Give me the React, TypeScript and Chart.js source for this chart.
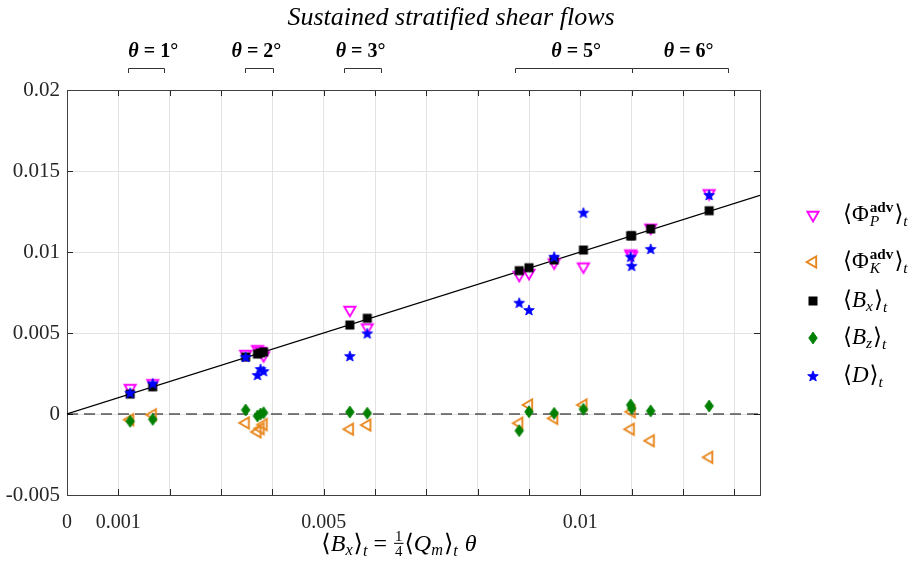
import { useEffect, useRef } from 'react';
import { Chart, registerables } from 'chart.js';
Chart.register(...registerables);

// ---------- data ----------
const xValues = [0.00123, 0.00167, 0.00348, 0.00371, 0.00377, 0.00383, 0.00551, 0.00585, 0.00881, 0.009, 0.00949, 0.01006, 0.01098, 0.011, 0.01137, 0.01251];
const phiP = [0.0016, 0.0019, 0.0037, 0.004, 0.0039, 0.00362, 0.00642, 0.00534, 0.00858, 0.0087, 0.00935, 0.0091, 0.0099, 0.0098, 0.0115, 0.01362];
const phiK = [-0.00035, -0.00005, -0.00055, -0.0011, -0.0009, -0.00065, -0.00094, -0.00068, -0.00057, 0.00056, -0.00027, 0.00056, -0.00094, 0.00014, -0.00165, -0.00267];
const bX = [0.00123, 0.00168, 0.00352, 0.0037, 0.00377, 0.00383, 0.00549, 0.00591, 0.00885, 0.00903, 0.00951, 0.01012, 0.011, 0.011, 0.01142, 0.01255];
const bZ = [-0.00045, -0.00033, 0.00025, -0.00012, 0.0, 0.00008, 0.00012, 0.00005, -0.00103, 0.00014, 0.00004, 0.00029, 0.00056, 0.00035, 0.00019, 0.00049];
const dVals = [0.00131, 0.00189, 0.00352, 0.00241, 0.00278, 0.00265, 0.00358, 0.00498, 0.00687, 0.00642, 0.00971, 0.01243, 0.00971, 0.00915, 0.01019, 0.01352];

const refLineX = [0, 0.0135];
const xTicks = [0, 0.001, 0.002, 0.003, 0.004, 0.005, 0.006, 0.007, 0.008, 0.009, 0.01, 0.011, 0.012, 0.013];
const xLabelled = [0, 0.001, 0.005, 0.01];
const yTicks = [-0.005, 0, 0.005, 0.01, 0.015, 0.02];

const thetaLabels = ['1', '2', '3', '5', '6'];
const thetaLabelX = [0.00168, 0.00369, 0.00572, 0.00992, 0.01211];
const thetaStart = [0.00119, 0.00346, 0.00539, 0.00873, 0.011];
const thetaEnd = [0.00189, 0.00402, 0.00611, 0.011, 0.01287];

const titleText = 'Sustained stratified shear flows';

// ---------- drawing helpers ----------
const SERIF = '"Liberation Serif", "DejaVu Serif", serif';
const fnt = (st: string, size: number) =>
  `${st.includes('i') ? 'italic ' : ''}${st.includes('b') ? 'bold ' : ''}${size}px ${SERIF}`;

type Seg = { t: string; st?: string; sc?: number; dy?: number; mark?: boolean; back?: boolean; gap?: number; frac?: [string, string] };

function rich(ctx: CanvasRenderingContext2D, segs: Seg[], x0: number, y: number, size: number, draw: boolean): number {
  let x = x0;
  let saved = x0;
  for (const s of segs) {
    const sz = size * (s.sc ?? 1);
    if (s.gap) x += s.gap;
    if (s.mark) saved = x;
    let prevEnd = x;
    if (s.back) { prevEnd = x; x = saved; }
    if (s.frac) {
      const fs = size * 0.62;
      ctx.font = fnt('', fs);
      const w = Math.max(ctx.measureText(s.frac[0]).width, ctx.measureText(s.frac[1]).width) + 4;
      if (draw) {
        ctx.textAlign = 'center';
        ctx.fillText(s.frac[0], x + w / 2, y - size * 0.42);
        ctx.fillText(s.frac[1], x + w / 2, y + size * 0.22);
        ctx.fillRect(x + 1, y - size * 0.34, w - 2, 1);
        ctx.textAlign = 'left';
      }
      x += w;
    } else {
      ctx.font = fnt(s.st ?? '', sz);
      if (draw) ctx.fillText(s.t, x, y + (s.dy ?? 0));
      x += ctx.measureText(s.t).width;
    }
    if (s.back) x = Math.max(x, prevEnd);
  }
  return x - x0;
}

function drawRich(ctx: CanvasRenderingContext2D, segs: Seg[], x: number, y: number, size: number, align: 'left' | 'center') {
  ctx.textAlign = 'left';
  ctx.textBaseline = 'alphabetic';
  let x0 = x;
  if (align === 'center') x0 = x - rich(ctx, segs, x, y, size, false) / 2;
  rich(ctx, segs, x0, y, size, true);
}

function makeMarker(kind: string): HTMLCanvasElement {
  const c = document.createElement('canvas');
  c.width = 18; c.height = 18;
  const g = c.getContext('2d')!;
  const cx = 9, cy = 9;
  g.lineJoin = 'miter';
  if (kind === 'down') {
    const r = 6.4;
    g.beginPath();
    g.moveTo(cx, cy + r);
    g.lineTo(cx - r * 0.866, cy - r * 0.5);
    g.lineTo(cx + r * 0.866, cy - r * 0.5);
    g.closePath();
    g.strokeStyle = '#ff00ff'; g.lineWidth = 1.9; g.stroke();
  } else if (kind === 'left') {
    const r = 6.4;
    g.beginPath();
    g.moveTo(cx - r, cy);
    g.lineTo(cx + r * 0.5, cy - r * 0.866);
    g.lineTo(cx + r * 0.5, cy + r * 0.866);
    g.closePath();
    g.strokeStyle = '#e8871e'; g.lineWidth = 1.9; g.stroke();
  } else if (kind === 'square') {
    g.fillStyle = '#000';
    g.fillRect(cx - 4.5, cy - 4.5, 9, 9);
  } else if (kind === 'diamond') {
    g.beginPath();
    g.moveTo(cx, cy - 6);
    g.lineTo(cx + 4.3, cy);
    g.lineTo(cx, cy + 6);
    g.lineTo(cx - 4.3, cy);
    g.closePath();
    g.fillStyle = '#008000'; g.fill();
    g.strokeStyle = '#008000'; g.lineWidth = 0.8; g.stroke();
  } else if (kind === 'star') {
    g.beginPath();
    for (let i = 0; i < 10; i++) {
      const a = -Math.PI / 2 + (i * Math.PI) / 5;
      const r = i % 2 === 0 ? 5.6 : 2.4;
      const px = cx + r * Math.cos(a), py = cy + 0.5 + r * Math.sin(a);
      if (i === 0) g.moveTo(px, py); else g.lineTo(px, py);
    }
    g.closePath();
    g.fillStyle = '#0000ff'; g.fill();
    g.strokeStyle = '#0000ff'; g.lineWidth = 0.8; g.stroke();
  }
  return c;
}

const fmt = (v: number) => {
  const r = Number(v.toFixed(6));
  return r === 0 ? '0' : String(r);
};

export default function App() {
  const ref = useRef<HTMLCanvasElement>(null);
  useEffect(() => {
    const canvas = ref.current!;
    const mDown = makeMarker('down');
    const mLeft = makeMarker('left');
    const mSq = makeMarker('square');
    const mDia = makeMarker('diamond');
    const mStar = makeMarker('star');
    const pts = (ys: number[]) => xValues.map((x, i) => ({ x, y: ys[i] }));

    const sub = (t: string, dy = 5): Seg => ({ t, st: 'i', sc: 0.68, dy });
    const legendItems: { m: HTMLCanvasElement; y: number; segs: Seg[] }[] = [
      { m: mDown, y: 215, segs: [{ t: '⟨Φ' }, { t: 'adv', st: 'b', sc: 0.66, dy: -9, mark: true, gap: 1 }, { t: 'P', st: 'i', sc: 0.68, dy: 5, back: true }, { t: '⟩', gap: 1 }, sub('t')] },
      { m: mLeft, y: 262, segs: [{ t: '⟨Φ' }, { t: 'adv', st: 'b', sc: 0.66, dy: -9, mark: true, gap: 1 }, { t: 'K', st: 'i', sc: 0.68, dy: 5, back: true }, { t: '⟩', gap: 1 }, sub('t')] },
      { m: mSq, y: 301, segs: [{ t: '⟨' }, { t: 'B', st: 'i' }, sub('x', 4), { t: '⟩', gap: 1 }, sub('t')] },
      { m: mDia, y: 338, segs: [{ t: '⟨' }, { t: 'B', st: 'i' }, sub('z', 4), { t: '⟩', gap: 1 }, sub('t')] },
      { m: mStar, y: 376, segs: [{ t: '⟨' }, { t: 'D', st: 'i' }, { t: '⟩', gap: 1 }, sub('t')] },
    ];

    const deco = {
      id: 'deco',
      beforeDatasetsDraw(ch: any) {
        const { ctx, chartArea: a, scales } = ch;
        ctx.save();
        ctx.strokeStyle = '#262626';
        ctx.lineWidth = 1;
        ctx.beginPath();
        for (const v of xTicks) {
          const px = Math.round(scales.x.getPixelForValue(v)) + 0.5;
          ctx.moveTo(px, a.bottom); ctx.lineTo(px, a.bottom - 6);
          ctx.moveTo(px, a.top); ctx.lineTo(px, a.top + 6);
        }
        for (const v of yTicks) {
          const py = Math.round(scales.y.getPixelForValue(v)) + 0.5;
          ctx.moveTo(a.left, py); ctx.lineTo(a.left + 6, py);
          ctx.moveTo(a.right, py); ctx.lineTo(a.right - 6, py);
        }
        ctx.stroke();
        ctx.strokeStyle = '#404040';
        ctx.strokeRect(Math.round(a.left) + 0.5, Math.round(a.top) + 0.5, Math.round(a.right - a.left), Math.round(a.bottom - a.top));
        ctx.restore();
      },
      afterDraw(ch: any) {
        const { ctx, scales } = ch;
        ctx.save();
        ctx.fillStyle = '#000';
        // title
        ctx.font = fnt('i', 26);
        ctx.textAlign = 'center';
        ctx.textBaseline = 'alphabetic';
        ctx.fillText(titleText, 451, 25);
        // theta annotations
        ctx.strokeStyle = '#333';
        ctx.lineWidth = 1;
        thetaLabels.forEach((lab, i) => {
          const cx = scales.x.getPixelForValue(thetaLabelX[i]);
          drawRich(ctx, [{ t: 'θ', st: 'bi' }, { t: ' = ', st: 'b' }, { t: lab + '°', st: 'b' }], cx, 57, 20, 'center');
          const x1 = Math.round(scales.x.getPixelForValue(thetaStart[i])) + 0.5;
          const x2 = Math.round(scales.x.getPixelForValue(thetaEnd[i])) + 0.5;
          ctx.beginPath();
          ctx.moveTo(x1, 73); ctx.lineTo(x1, 68.5); ctx.lineTo(x2, 68.5); ctx.lineTo(x2, 73);
          ctx.stroke();
        });
        // legend
        legendItems.forEach((it) => {
          ctx.drawImage(it.m, 813 - it.m.width / 2, it.y - it.m.height / 2);
          drawRich(ctx, it.segs, 843, it.y + 6, 23, 'left');
        });
        // x axis title
        drawRich(ctx, [
          { t: '⟨' }, { t: 'B', st: 'i' }, sub('x', 4), { t: '⟩', gap: 1 }, sub('t'),
          { t: ' = ' }, { t: '', frac: ['1', '4'] }, { t: '⟨' }, { t: 'Q', st: 'i' }, sub('m', 4), { t: '⟩', gap: 1 }, sub('t'),
          { t: ' θ', st: 'i', gap: 1 },
        ], 399, 551, 24, 'center');
        ctx.restore();
      },
    };

    const markerDs = (label: string, ys: number[], m: HTMLCanvasElement) => ({
      label, data: pts(ys), pointStyle: m, pointRadius: 6, showLine: false,
    });

    const chart = new Chart(canvas, {
      type: 'scatter',
      data: {
        datasets: [
          markerDs('D', dVals, mStar),
          markerDs('Bz', bZ, mDia),
          markerDs('Bx', bX, mSq),
          markerDs('PhiK', phiK, mLeft),
          markerDs('PhiP', phiP, mDown),
          { label: 'line', data: refLineX.map((x) => ({ x, y: x })), showLine: true, pointRadius: 0, borderColor: '#000', borderWidth: 1.3 } as any,
          { label: 'zero', data: refLineX.map((x) => ({ x, y: 0 })), showLine: true, pointRadius: 0, borderColor: '#000', borderWidth: 1, borderDash: [11, 6] } as any,
        ],
      },
      options: {
        responsive: false,
        animation: false,
        events: [],
        layout: { padding: { top: 90, right: 164, left: 0, bottom: 0 } },
        plugins: { legend: { display: false }, title: { display: false }, tooltip: { enabled: false } },
        scales: {
          x: {
            type: 'linear', min: 0, max: 0.0135,
            afterBuildTicks: (s: any) => { s.ticks = xTicks.map((v) => ({ value: v })); },
            afterFit: (s: any) => { s.height = 67; },
            grid: { color: '#e3e3e3', drawTicks: false },
            border: { display: false },
            ticks: {
              autoSkip: false, maxRotation: 0, padding: 16, color: '#262626',
              font: { family: SERIF, size: 20 },
              callback: (v: any) => (xLabelled.some((l) => Math.abs(l - v) < 1e-9) ? fmt(v) : ''),
            },
          },
          y: {
            type: 'linear', min: -0.005, max: 0.02,
            afterBuildTicks: (s: any) => { s.ticks = yTicks.map((v) => ({ value: v })); },
            afterFit: (s: any) => { s.width = 67; },
            grid: { color: '#e3e3e3', drawTicks: false },
            border: { display: false },
            ticks: { padding: 7, color: '#262626', font: { family: SERIF, size: 21 }, callback: (v: any) => fmt(v) },
          },
        },
      },
      plugins: [deco],
    } as any);
    return () => chart.destroy();
  }, []);
  return (
    <div style={{ position: 'fixed', left: 0, top: 0, width: 924, height: 562, background: '#fff' }}>
      <canvas ref={ref} width={924} height={562} style={{ display: 'block', width: 924, height: 562 }} />
    </div>
  );
}
